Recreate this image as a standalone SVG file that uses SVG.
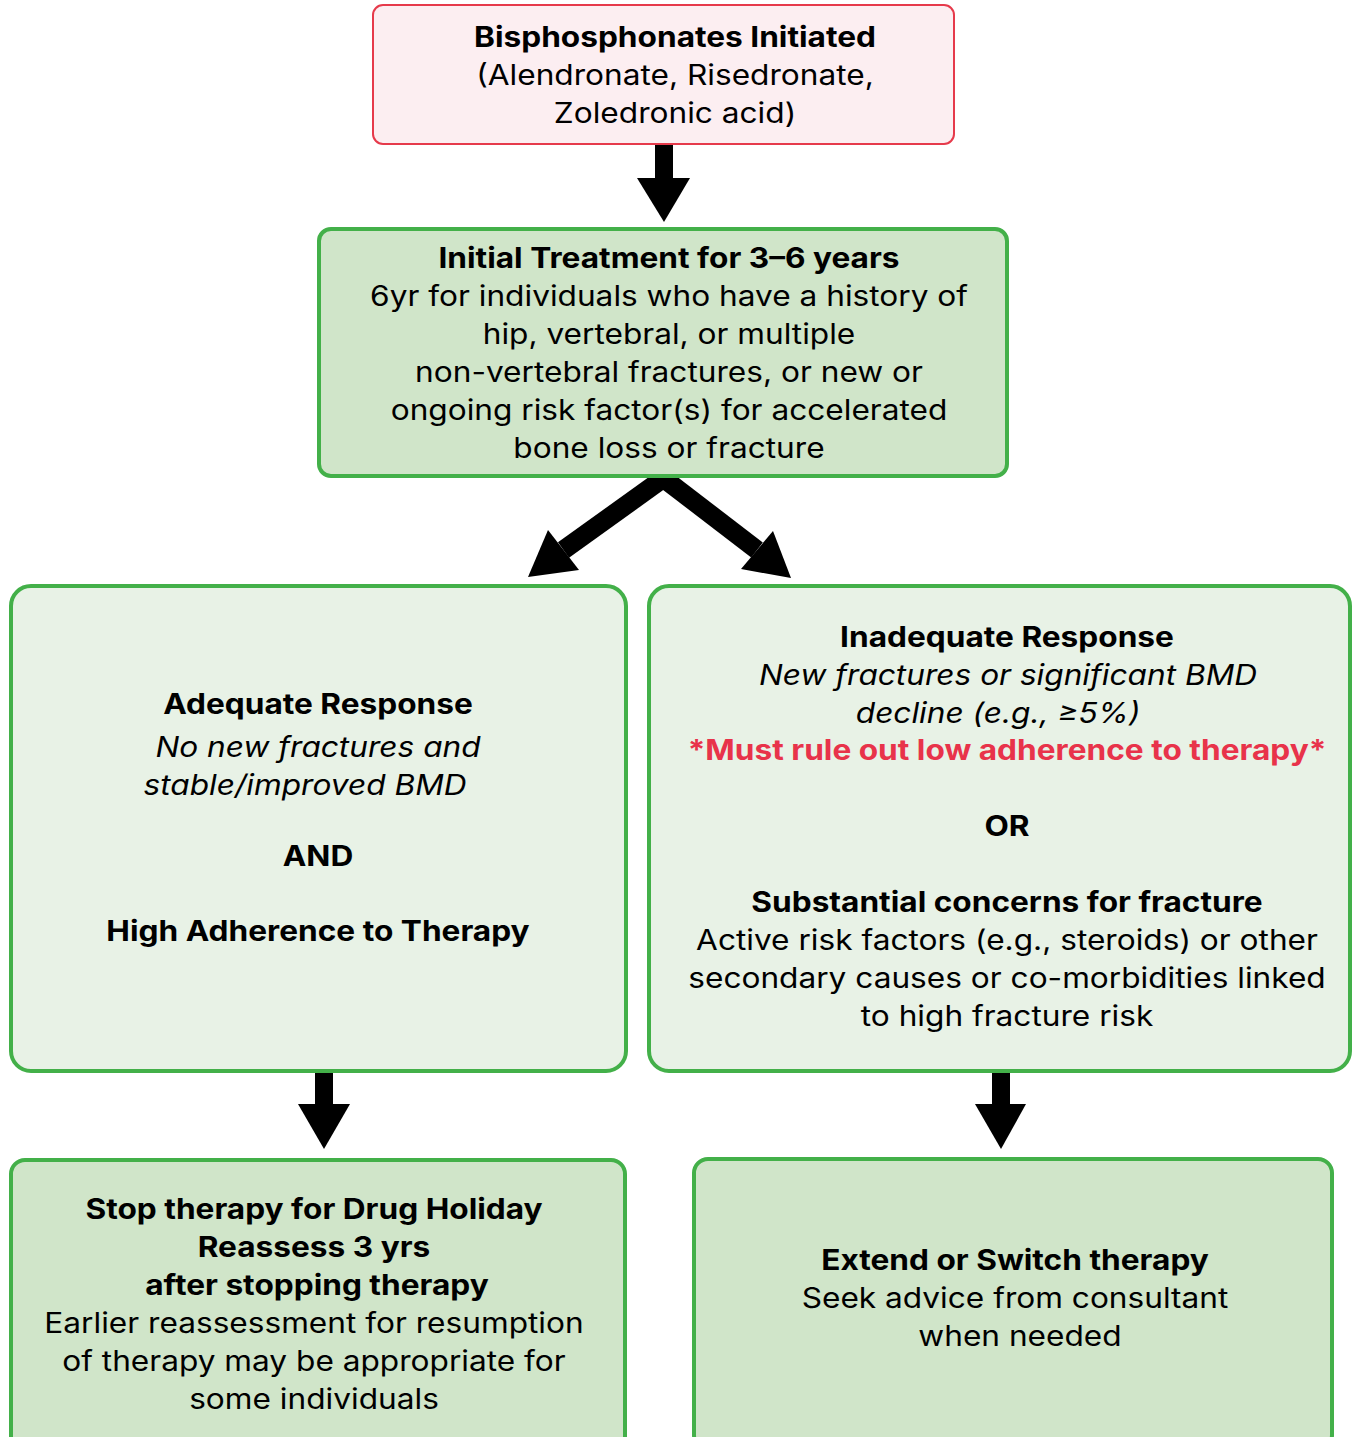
<svg xmlns="http://www.w3.org/2000/svg" width="1353" height="1437" viewBox="0 0 1353 1437">
<style>
text{font-family:Inter,"Liberation Sans",sans-serif;font-size:28px;fill:#000;text-anchor:middle}
.b{font-weight:700}
.i{font-style:italic}
.red{fill:#E8334A;font-weight:700}
.gbox{stroke:#43B049;stroke-width:4}
.dark{fill:#D0E5C9}
.light{fill:#E8F2E6}
</style>
<defs>
<clipPath id="below"><rect x="0" y="478" width="1353" height="200"/></clipPath>
</defs>
<rect width="1353" height="1437" fill="#fff"/>
<g id="connectors" fill="#000">
<rect x="655" y="145" width="18" height="34"/>
<polygon points="637,178 690,178 664,222"/>
<g clip-path="url(#below)">
<line x1="673.7" y1="470.9" x2="563.5" y2="550" stroke="#000" stroke-width="19"/>
<line x1="653.5" y1="470.6" x2="757" y2="550" stroke="#000" stroke-width="19"/>
</g>
<polygon points="548,530 579,570 528,577"/>
<polygon points="773,531 741,569 791,578"/>
<rect x="315" y="1072" width="18" height="33"/>
<polygon points="298,1104 350,1104 324,1149"/>
<rect x="992" y="1072" width="18" height="33"/>
<polygon points="975,1104 1026,1104 1001,1149"/>
</g>
<g id="start">
<rect x="373" y="5" width="581" height="139" rx="10" fill="#FCEEF1" stroke="#E63A4B" stroke-width="2"/>
<text transform="translate(675 47) scale(1.13 1)" class="b">Bisphosphonates Initiated</text>
<text transform="translate(675 85) scale(1.13 1)">(Alendronate, Risedronate,</text>
<text transform="translate(675 123) scale(1.13 1)">Zoledronic acid)</text>
</g>
<g id="initial">
<rect x="319" y="229" width="688" height="247" rx="12" class="gbox dark"/>
<text transform="translate(669 268) scale(1.13 1)" class="b">Initial Treatment for 3–6 years</text>
<text transform="translate(669 306) scale(1.13 1)">6yr for individuals who have a history of</text>
<text transform="translate(669 344) scale(1.13 1)">hip, vertebral, or multiple</text>
<text transform="translate(669 382) scale(1.13 1)">non-vertebral fractures, or new or</text>
<text transform="translate(669 420) scale(1.13 1)">ongoing risk factor(s) for accelerated</text>
<text transform="translate(669 458) scale(1.13 1)">bone loss or fracture</text>
</g>
<g id="adequate">
<rect x="11" y="586" width="615" height="485" rx="20" class="gbox light"/>
<text transform="translate(318 714) scale(1.13 1)" class="b">Adequate Response</text>
<text transform="translate(318 757) scale(1.13 1)" class="i">No new fractures and</text>
<text transform="translate(305 795) scale(1.13 1)" class="i">stable/improved BMD</text>
<text transform="translate(318 866) scale(1.13 1)" class="b">AND</text>
<text transform="translate(318 941) scale(1.13 1)" class="b">High Adherence to Therapy</text>
</g>
<g id="inadequate">
<rect x="649" y="586" width="701" height="485" rx="20" class="gbox light"/>
<text transform="translate(1007 647) scale(1.13 1)" class="b">Inadequate Response</text>
<text transform="translate(1008 685) scale(1.13 1)" class="i">New fractures or significant BMD</text>
<text transform="translate(998 723) scale(1.13 1)" class="i">decline (e.g., ≥5%)</text>
<text transform="translate(1007 760) scale(1.13 1)" class="red">*Must rule out low adherence to therapy*</text>
<text transform="translate(1007 836) scale(1.13 1)" class="b">OR</text>
<text transform="translate(1007 912) scale(1.13 1)" class="b">Substantial concerns for fracture</text>
<text transform="translate(1007 950) scale(1.13 1)">Active risk factors (e.g., steroids) or other</text>
<text transform="translate(1007 988) scale(1.13 1)">secondary causes or co-morbidities linked</text>
<text transform="translate(1007 1026) scale(1.13 1)">to high fracture risk</text>
</g>
<g id="stop">
<rect x="11" y="1160" width="614" height="290" rx="14" class="gbox dark"/>
<text transform="translate(314 1219) scale(1.13 1)" class="b">Stop therapy for Drug Holiday</text>
<text transform="translate(314 1257) scale(1.13 1)" class="b">Reassess 3 yrs</text>
<text transform="translate(317 1295) scale(1.13 1)" class="b">after stopping therapy</text>
<text transform="translate(314 1333) scale(1.13 1)">Earlier reassessment for resumption</text>
<text transform="translate(314 1371) scale(1.13 1)">of therapy may be appropriate for</text>
<text transform="translate(314 1409) scale(1.13 1)">some individuals</text>
</g>
<g id="extend">
<rect x="694" y="1159" width="638" height="290" rx="14" class="gbox dark"/>
<text transform="translate(1015 1270) scale(1.13 1)" class="b">Extend or Switch therapy</text>
<text transform="translate(1015 1308) scale(1.13 1)">Seek advice from consultant</text>
<text transform="translate(1020 1346) scale(1.13 1)">when needed</text>
</g>
</svg>
